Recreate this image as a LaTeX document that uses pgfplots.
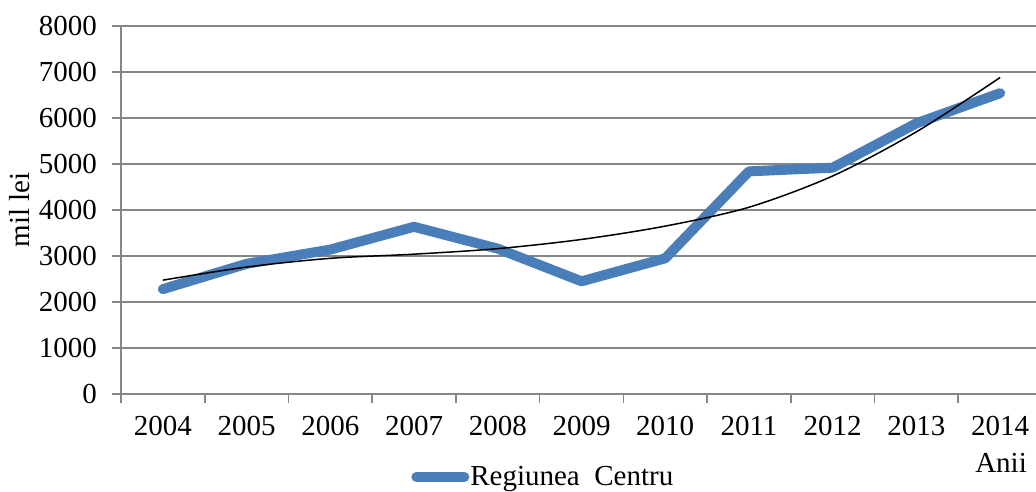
\documentclass[border=0pt]{standalone}
\usepackage{pgfplots}
\pgfplotsset{compat=1.18}
\usepackage{fontspec}
\setmainfont{Liberation Serif}
\definecolor{serblue}{RGB}{74,126,187}
\definecolor{gridgray}{RGB}{134,134,134}
\newcommand{\bigfont}{\fontsize{29pt}{34pt}\selectfont}
\begin{document}
\begin{tikzpicture}[font=\bigfont]
\begin{axis}[
  at={(121pt,97pt)}, anchor=south west,
  scale only axis, width=921pt, height=368pt,
  xmin=-0.5, xmax=10.5, ymin=0, ymax=8000,
  axis lines*=left,
  axis line style={gridgray, line width=1.6pt},
  tick style={gridgray, line width=1.6pt},
  tick align=outside,
  major tick length=9pt,
  xtick={-0.5,0.5,...,10.5},
  xticklabels={},
  extra x ticks={0,1,2,3,4,5,6,7,8,9,10},
  extra x tick labels={2004,2005,2006,2007,2008,2009,2010,2011,2012,2013,2014},
  extra x tick style={major tick length=0pt},
  ytick={0,1000,...,8000},
  ymajorgrids,
  grid style={gridgray, line width=1.6pt},
  /pgf/number format/assume math mode=true,
  /pgf/number format/set thousands separator={},
  tick label style={font=\bigfont, text=black},
  yticklabel style={anchor=east, inner sep=0pt, xshift=-15pt},
  xticklabel style={anchor=north, inner sep=0pt, yshift=-22pt},
  xlabel={Anii},
  xlabel style={font=\bigfont, at={(axis description cs:0.9555,0)}, anchor=base, yshift=-78pt},
  ylabel={mil lei},
  ylabel style={font=\bigfont, at={(axis description cs:-0.1097,0.5)}, anchor=center},
  legend style={font=\bigfont, draw=none, fill=none, at={(axis description cs:0.3150,-0.2255)}, anchor=west, inner sep=0pt, nodes={inner sep=1pt}},
  legend image code/.code={\draw[#1] (0pt,0pt) -- (48pt,0pt);},
  clip=false,
]
\addplot[serblue, line width=10pt, line cap=round, line join=round] coordinates {
  (0,2280) (1,2830) (2,3140) (3,3635) (4,3160) (5,2450) (6,2950) (7,4840) (8,4920) (9,5885) (10,6540)
};
\addlegendentry{Regiunea\ \ Centru}
\addplot[black, line width=1.5pt, smooth] coordinates {
  (0,2475) (1,2760) (2,2950) (3,3040) (4,3160) (5,3360) (6,3650) (7,4060) (8,4740) (9,5700) (10,6880)
};
\end{axis}
\pgfresetboundingbox
\useasboundingbox (0pt,0pt) rectangle (1036pt,491pt);
\end{tikzpicture}
\end{document}
